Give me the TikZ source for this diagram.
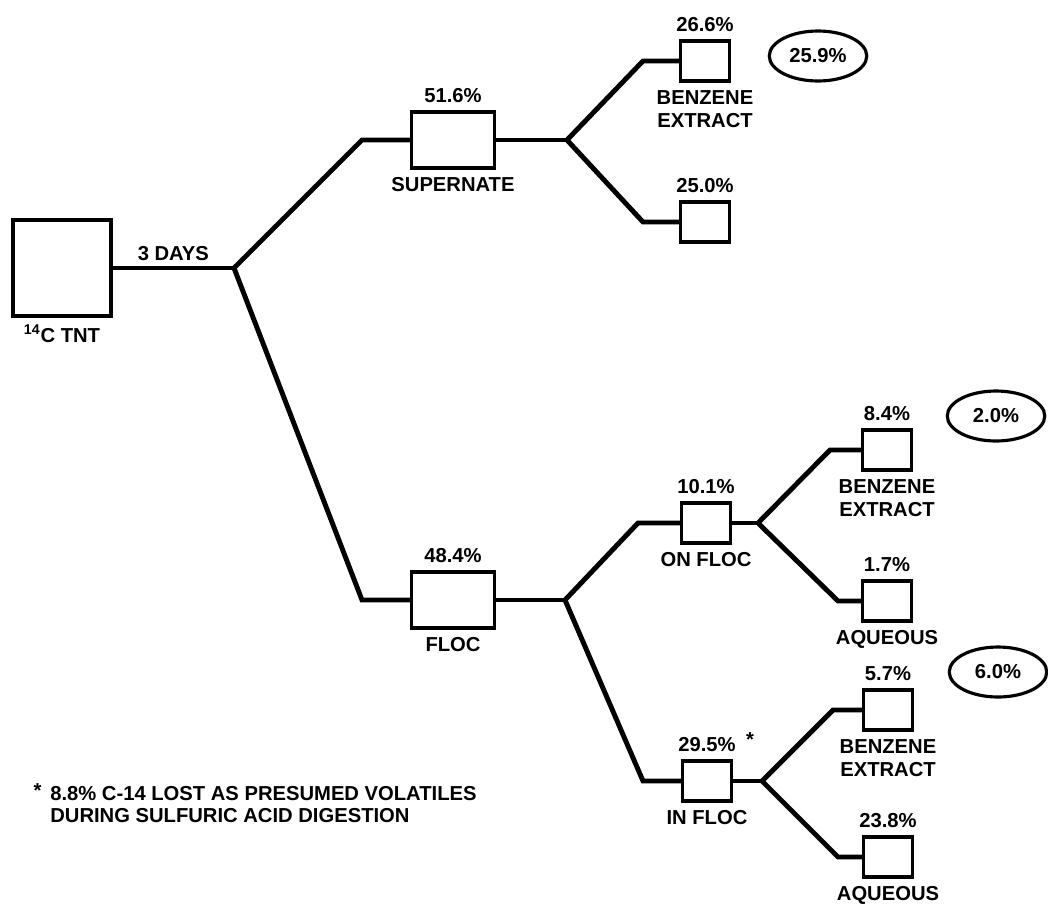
\documentclass[tikz,border=0pt]{standalone}
\usepackage{fontspec}
\setmainfont{Liberation Sans}
\usetikzlibrary{positioning, shapes.geometric}
\tikzset{
    bigbox/.style={
        draw,
        line width=2pt,
        minimum width=1.96cm,
        minimum height=1.92cm
    },
    midbox/.style={
        draw,
        line width=2pt,
        minimum width=1.66cm,
        minimum height=1.12cm
    },
    smallbox/.style={
        draw,
        line width=2pt,
        minimum width=0.98cm,
        minimum height=0.8cm
    },
    total/.style={draw, ellipse, line width=1.8pt, minimum width=1.95cm, minimum height=1.0cm, inner sep=0pt},
    line/.style={line width=2.8pt},
    pct/.style={inner sep=1pt},
    note/.style={align=left, inner sep=0pt, font=\bfseries\fontsize{11.5}{12.5}\selectfont},
    every node/.style={font=\bfseries\fontsize{11.5}{13.5}\selectfont, align=center, inner sep=1pt}
}

\begin{document}
\begin{tikzpicture}[x=0.02cm, y=-0.02cm, node distance=3pt]
\useasboundingbox (0,0) rectangle (1048,907);

% start
\node[bigbox] (tnt) at (62,268) {};
\node[below=of tnt] (tntTag) {\textsuperscript{14}C TNT};
\coordinate (split1) at (234,268);
\draw[line] (tnt) -- node[above=2pt] (days) {3 DAYS} (split1);

% supernate
\node[midbox] (sup) at (453,140) {};
\node[pct, above=of sup] (supPct) {51.6\%};
\node[below=of sup] (supTag) {SUPERNATE};
\coordinate (bendSup) at (362,140);
\coordinate (split2) at (567,140);
\draw[line] (split1) -- (bendSup) -- (sup);
\draw[line] (sup) -- (split2);

\node[smallbox] (supBz) at (705,61) {};
\node[pct, above=of supBz] (supBzPct) {26.6\%};
\node[below=of supBz] (supBzTag) {BENZENE\\EXTRACT};
\node[smallbox] (supAq) at (705,222) {};
\node[pct, above=of supAq] (supAqPct) {25.0\%};
\coordinate (bendSupBz) at (643,61);
\coordinate (bendSupAq) at (643,222);
\draw[line] (split2) -- (bendSupBz) -- (supBz);
\draw[line] (split2) -- (bendSupAq) -- (supAq);
\node[total] (supTot) at (818,56) {25.9\%};

% floc
\node[midbox] (floc) at (453,600) {};
\node[pct, above=of floc] (flocPct) {48.4\%};
\node[below=of floc] (flocTag) {FLOC};
\coordinate (bendFloc) at (362,600);
\coordinate (split3) at (565,600);
\draw[line] (split1) -- (bendFloc) -- (floc);
\draw[line] (floc) -- (split3);

% on floc
\node[smallbox] (on) at (706,523) {};
\node[pct, above=of on] (onPct) {10.1\%};
\node[below=of on] (onTag) {ON FLOC};
\coordinate (bendOn) at (638,523);
\coordinate (split4) at (758,523);
\draw[line] (split3) -- (bendOn) -- (on);
\draw[line] (on) -- (split4);

\node[smallbox] (onBz) at (887,450) {};
\node[pct, above=of onBz] (onBzPct) {8.4\%};
\node[below=of onBz] (onBzTag) {BENZENE\\EXTRACT};
\node[smallbox] (onAq) at (887,601) {};
\node[pct, above=of onAq] (onAqPct) {1.7\%};
\node[below=of onAq] (onAqTag) {AQUEOUS};
\coordinate (bendOnBz) at (830,450);
\coordinate (bendOnAq) at (838,601);
\draw[line] (split4) -- (bendOnBz) -- (onBz);
\draw[line] (split4) -- (bendOnAq) -- (onAq);
\node[total] (onTot) at (996,416) {2.0\%};

% in floc
\node[smallbox] (in) at (707,781) {};
\node[pct, above=of in] (inPct) {29.5\%\rlap{\hspace{6pt}\raisebox{3pt}{*}}};
\node[below=of in] (inTag) {IN FLOC};
\coordinate (bendIn) at (643,781);
\coordinate (split5) at (762,781);
\draw[line] (split3) -- (bendIn) -- (in);
\draw[line] (in) -- (split5);

\node[smallbox] (inBz) at (888,710) {};
\node[pct, above=of inBz] (inBzPct) {5.7\%};
\node[below=of inBz] (inBzTag) {BENZENE\\EXTRACT};
\node[smallbox] (inAq) at (888,857) {};
\node[pct, above=of inAq] (inAqPct) {23.8\%};
\node[below=of inAq] (inAqTag) {AQUEOUS};
\coordinate (bendInBz) at (833,710);
\coordinate (bendInAq) at (838,857);
\draw[line] (split5) -- (bendInBz) -- (inBz);
\draw[line] (split5) -- (bendInAq) -- (inAq);
\node[total] (inTot) at (998,672) {6.0\%};

% footnote
\node[note, anchor=north west] (foot) at (50,783) {\llap{\raisebox{2pt}{*}\ \,}8.8\% C-14 LOST AS PRESUMED VOLATILES\\DURING SULFURIC ACID DIGESTION};
\end{tikzpicture}
\end{document}
